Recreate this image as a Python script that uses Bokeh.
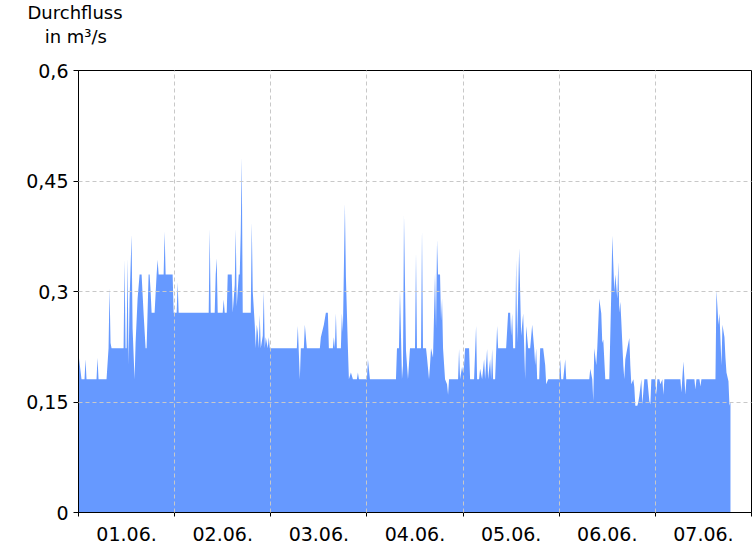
from bokeh.plotting import figure
from bokeh.models import Range1d, FixedTicker, Title
from bokeh.embed import file_html
from bokeh.resources import INLINE

# --- data: hours since 01.06. 00:00, discharge in m³/s ---
seg1_h = [0, 0.75, 1.5, 1.75, 2.0, 4.5, 4.75, 5.0, 7.0, 7.5, 7.75, 8.0, 8.25, 11.25, 11.5, 11.75, 12.0, 12.25, 12.5, 12.75,
          13.25, 13.5, 14.0, 14.25, 14.75, 15.25, 15.75, 16.25, 16.75, 17.0, 17.5, 17.75, 18.0, 18.25, 19.0, 19.5, 19.75, 20.0,
          21.25, 21.5, 21.75, 23.5, 23.75, 24.5, 24.75, 25.0]
seg1_q = [0.215, 0.181, 0.181, 0.208, 0.181, 0.181, 0.21, 0.181, 0.181, 0.223, 0.305, 0.23, 0.223, 0.223, 0.343, 0.223, 0.223,
          0.345, 0.201, 0.289, 0.377, 0.25, 0.181, 0.23, 0.29, 0.323, 0.323, 0.27, 0.223, 0.223, 0.323, 0.323, 0.30, 0.271, 0.271,
          0.323, 0.343, 0.323, 0.323, 0.381, 0.323, 0.323, 0.271, 0.271, 0.313, 0.271]

seg2_h = [32.5, 32.75, 33.0, 34.0, 34.25, 34.5, 34.75, 36.0, 36.25, 36.5, 37.0, 37.25, 38.25, 38.5, 39.0, 39.25, 39.5, 40.0,
          40.25, 40.5, 40.75, 41.0, 43.0, 43.25, 43.5, 44.0, 44.25, 44.5, 44.75, 45.0, 45.25, 45.5, 46.0, 46.25, 46.5, 46.75,
          47.25, 47.5, 47.75]
seg2_q = [0.271, 0.385, 0.271, 0.271, 0.323, 0.345, 0.271, 0.271, 0.289, 0.271, 0.271, 0.323, 0.323, 0.271, 0.309, 0.385, 0.28,
          0.323, 0.323, 0.38, 0.482, 0.271, 0.271, 0.394, 0.30, 0.255, 0.223, 0.255, 0.245, 0.223, 0.268, 0.223, 0.24, 0.301,
          0.223, 0.238, 0.223, 0.238, 0.223]

seg3_h = [54.5, 54.75, 55.25, 55.5, 56.25, 56.5, 57.0, 60.25, 60.5, 61.25, 61.75, 62.25, 62.5, 63.5, 63.75, 64.0, 64.25, 64.5,
          65.5, 65.75, 66.0, 66.5, 66.75, 67.25, 67.5, 68.0, 68.5, 69.5, 69.75, 70.0, 72.0, 72.25, 72.75, 79.25, 79.5, 80.0,
          80.25, 80.75, 81.0]
seg3_q = [0.223, 0.253, 0.181, 0.223, 0.223, 0.255, 0.223, 0.223, 0.238, 0.255, 0.271, 0.271, 0.223, 0.223, 0.238, 0.223, 0.27,
          0.223, 0.223, 0.27, 0.245, 0.419, 0.32, 0.223, 0.181, 0.19, 0.181, 0.181, 0.19, 0.181, 0.181, 0.208, 0.181, 0.181,
          0.223, 0.223, 0.301, 0.181, 0.2]

seg4_h = [81.25, 81.75, 82.25, 82.75, 84.0, 84.25, 84.5, 85.5, 85.75, 86.0, 86.75, 87.0, 87.5, 87.75, 88.0, 88.5, 89.0, 89.25,
          89.5, 89.75, 90.25, 90.5, 90.75, 91.0, 91.5, 92.0, 92.25, 92.5, 94.75, 95.0, 95.25, 95.75, 96.0, 96.25, 96.5, 97.5,
          97.75, 98.75, 99.25, 99.5, 100.0, 100.25, 100.75, 101.25, 101.5, 102.0, 102.25, 102.75, 103.0, 103.25, 103.5, 104.0,
          104.5, 104.75, 106.75, 107.25, 107.75, 108.0, 108.25, 108.5]
seg4_q = [0.404, 0.22, 0.181, 0.223, 0.223, 0.352, 0.223, 0.223, 0.383, 0.223, 0.223, 0.21, 0.181, 0.20, 0.223, 0.21, 0.325,
          0.25, 0.37, 0.323, 0.323, 0.26, 0.29, 0.223, 0.181, 0.174, 0.16, 0.181, 0.181, 0.222, 0.181, 0.198, 0.19, 0.20, 0.223,
          0.223, 0.181, 0.181, 0.253, 0.181, 0.181, 0.195, 0.181, 0.208, 0.181, 0.222, 0.181, 0.208, 0.181, 0.222, 0.181,
          0.181, 0.253, 0.223, 0.223, 0.271, 0.271, 0.24, 0.27, 0.223]

seg5_h = [109.0, 109.25, 109.5, 110.0, 110.5, 111.0, 111.5, 111.75, 112.25, 112.75, 113.25, 113.75, 114.0, 114.25, 114.5,
          115.0, 115.25, 116.0, 116.5, 116.75, 117.25, 120.0, 120.25, 120.5, 121.0, 121.5, 121.75, 127.5, 127.75, 128.25,
          128.5, 128.75, 129.25, 129.5, 130.0, 130.5, 130.75, 131.0, 131.5, 132.5, 133.0, 133.25, 133.75, 134.0, 134.5,
          134.75, 135.0]
seg5_q = [0.223, 0.343, 0.23, 0.359, 0.24, 0.27, 0.181, 0.253, 0.223, 0.223, 0.255, 0.223, 0.20, 0.223, 0.181, 0.181, 0.223,
          0.223, 0.20, 0.174, 0.181, 0.181, 0.208, 0.181, 0.181, 0.208, 0.181, 0.181, 0.195, 0.181, 0.151, 0.223, 0.20, 0.223,
          0.29, 0.27, 0.23, 0.235, 0.181, 0.181, 0.30, 0.376, 0.30, 0.323, 0.29, 0.34, 0.271]

seg6_h = [135.25, 135.5, 136.0, 136.25, 136.5, 137.0, 137.5, 137.75, 138.0, 138.5, 138.75, 139.0, 139.5, 139.75, 140.0,
          140.5, 140.75, 141.25, 142.0, 142.5, 142.75, 143.0, 144.0, 144.25, 144.5, 145.0, 145.25, 145.75, 146.0, 146.25,
          150.25, 150.5, 151.0, 151.5, 151.75, 153.75, 154.0, 154.25, 155.0, 155.25, 155.5, 159.0, 159.25, 159.75, 160.0,
          160.5, 160.75, 161.25, 161.5, 161.75, 162.25, 162.5, 162.75]
seg6_q = [0.286, 0.26, 0.20, 0.181, 0.208, 0.223, 0.237, 0.20, 0.174, 0.181, 0.17, 0.145, 0.145, 0.15, 0.158, 0.181, 0.147,
          0.181, 0.181, 0.151, 0.147, 0.181, 0.181, 0.16, 0.181, 0.181, 0.174, 0.181, 0.16, 0.181, 0.181, 0.163, 0.205, 0.16,
          0.181, 0.181, 0.167, 0.181, 0.181, 0.171, 0.181, 0.181, 0.302, 0.255, 0.27, 0.20, 0.255, 0.238, 0.21, 0.19, 0.178,
          0.145, 0.15]

day_labels = ["01.06.", "02.06.", "03.06.", "04.06.", "05.06.", "06.06.", "07.06."]
y_ticks = [0, 0.15, 0.3, 0.45, 0.6]
y_tick_labels = ["0", "0,15", "0,3", "0,45", "0,6"]
# the final zero-width line keeps a one-line gap between the caption and the frame
caption = "Durchfluss\n\u00a0\u00a0\u00a0in m³/s\n\u200b"

hours = seg1_h + seg2_h + seg3_h + seg4_h + seg5_h + seg6_h
flow = seg1_q + seg2_q + seg3_q + seg4_q + seg5_q + seg6_q
assert len(hours) == len(flow)

FONT = "DejaVu Sans"
n_days = len(day_labels)

p = figure(width=754, height=544, output_backend="svg", toolbar_location=None,
           x_range=Range1d(0, 24 * n_days), y_range=Range1d(0, 0.6),
           min_border_left=78, min_border_right=3, min_border_top=68, min_border_bottom=32)
p.background_fill_color = "white"
p.outline_line_color = "black"
p.outline_line_width = 1

p.varea(x=hours, y1=[0] * len(hours), y2=flow, fill_color="#6699FF", fill_alpha=1.0)

# x axis: labels at noon, ticks at midnight
noon = [12 + 24 * i for i in range(n_days)]
midnight = [24 * i for i in range(n_days + 1)]
p.xaxis.ticker = FixedTicker(ticks=noon, minor_ticks=midnight)
p.xaxis.major_label_overrides = {t: lab for t, lab in zip(noon, day_labels)}
p.xaxis.major_tick_out = 0
p.xaxis.major_tick_in = 0
p.xaxis.minor_tick_out = 4
p.xaxis.minor_tick_in = 0
p.xaxis.major_label_standoff = 10
p.xaxis.major_label_text_font = FONT
p.xaxis.major_label_text_font_size = "19px"
p.xaxis.major_label_text_color = "black"
p.xaxis.axis_line_color = "black"

p.yaxis.ticker = FixedTicker(ticks=y_ticks, minor_ticks=[])
p.yaxis.major_label_overrides = {t: lab for t, lab in zip(y_ticks, y_tick_labels)}
p.yaxis.major_tick_out = 5
p.yaxis.major_tick_in = 0
p.yaxis.minor_tick_out = 0
p.yaxis.minor_tick_in = 0
p.yaxis.major_label_standoff = 5
p.yaxis.major_label_text_font = FONT
p.yaxis.major_label_text_font_size = "19px"
p.yaxis.major_label_text_color = "black"
p.yaxis.axis_line_color = "black"

p.xgrid.ticker = FixedTicker(ticks=midnight[1:-1])
p.ygrid.ticker = FixedTicker(ticks=y_ticks[1:])
for g in (p.xgrid, p.ygrid):
    g.grid_line_color = "#C8C8C8"
    g.grid_line_dash = "4 3"
    g.grid_line_width = 1
p.xgrid.level = "overlay"
p.ygrid.level = "overlay"

# two-line unit caption above the y axis
p.add_layout(Title(text=caption, align="left", offset=-51, standoff=0,
                   text_font=FONT, text_font_size="18px", text_font_style="normal",
                   text_line_height=1.13, text_color="black"), "above")

open("out.html", "w").write(file_html(p, INLINE))
